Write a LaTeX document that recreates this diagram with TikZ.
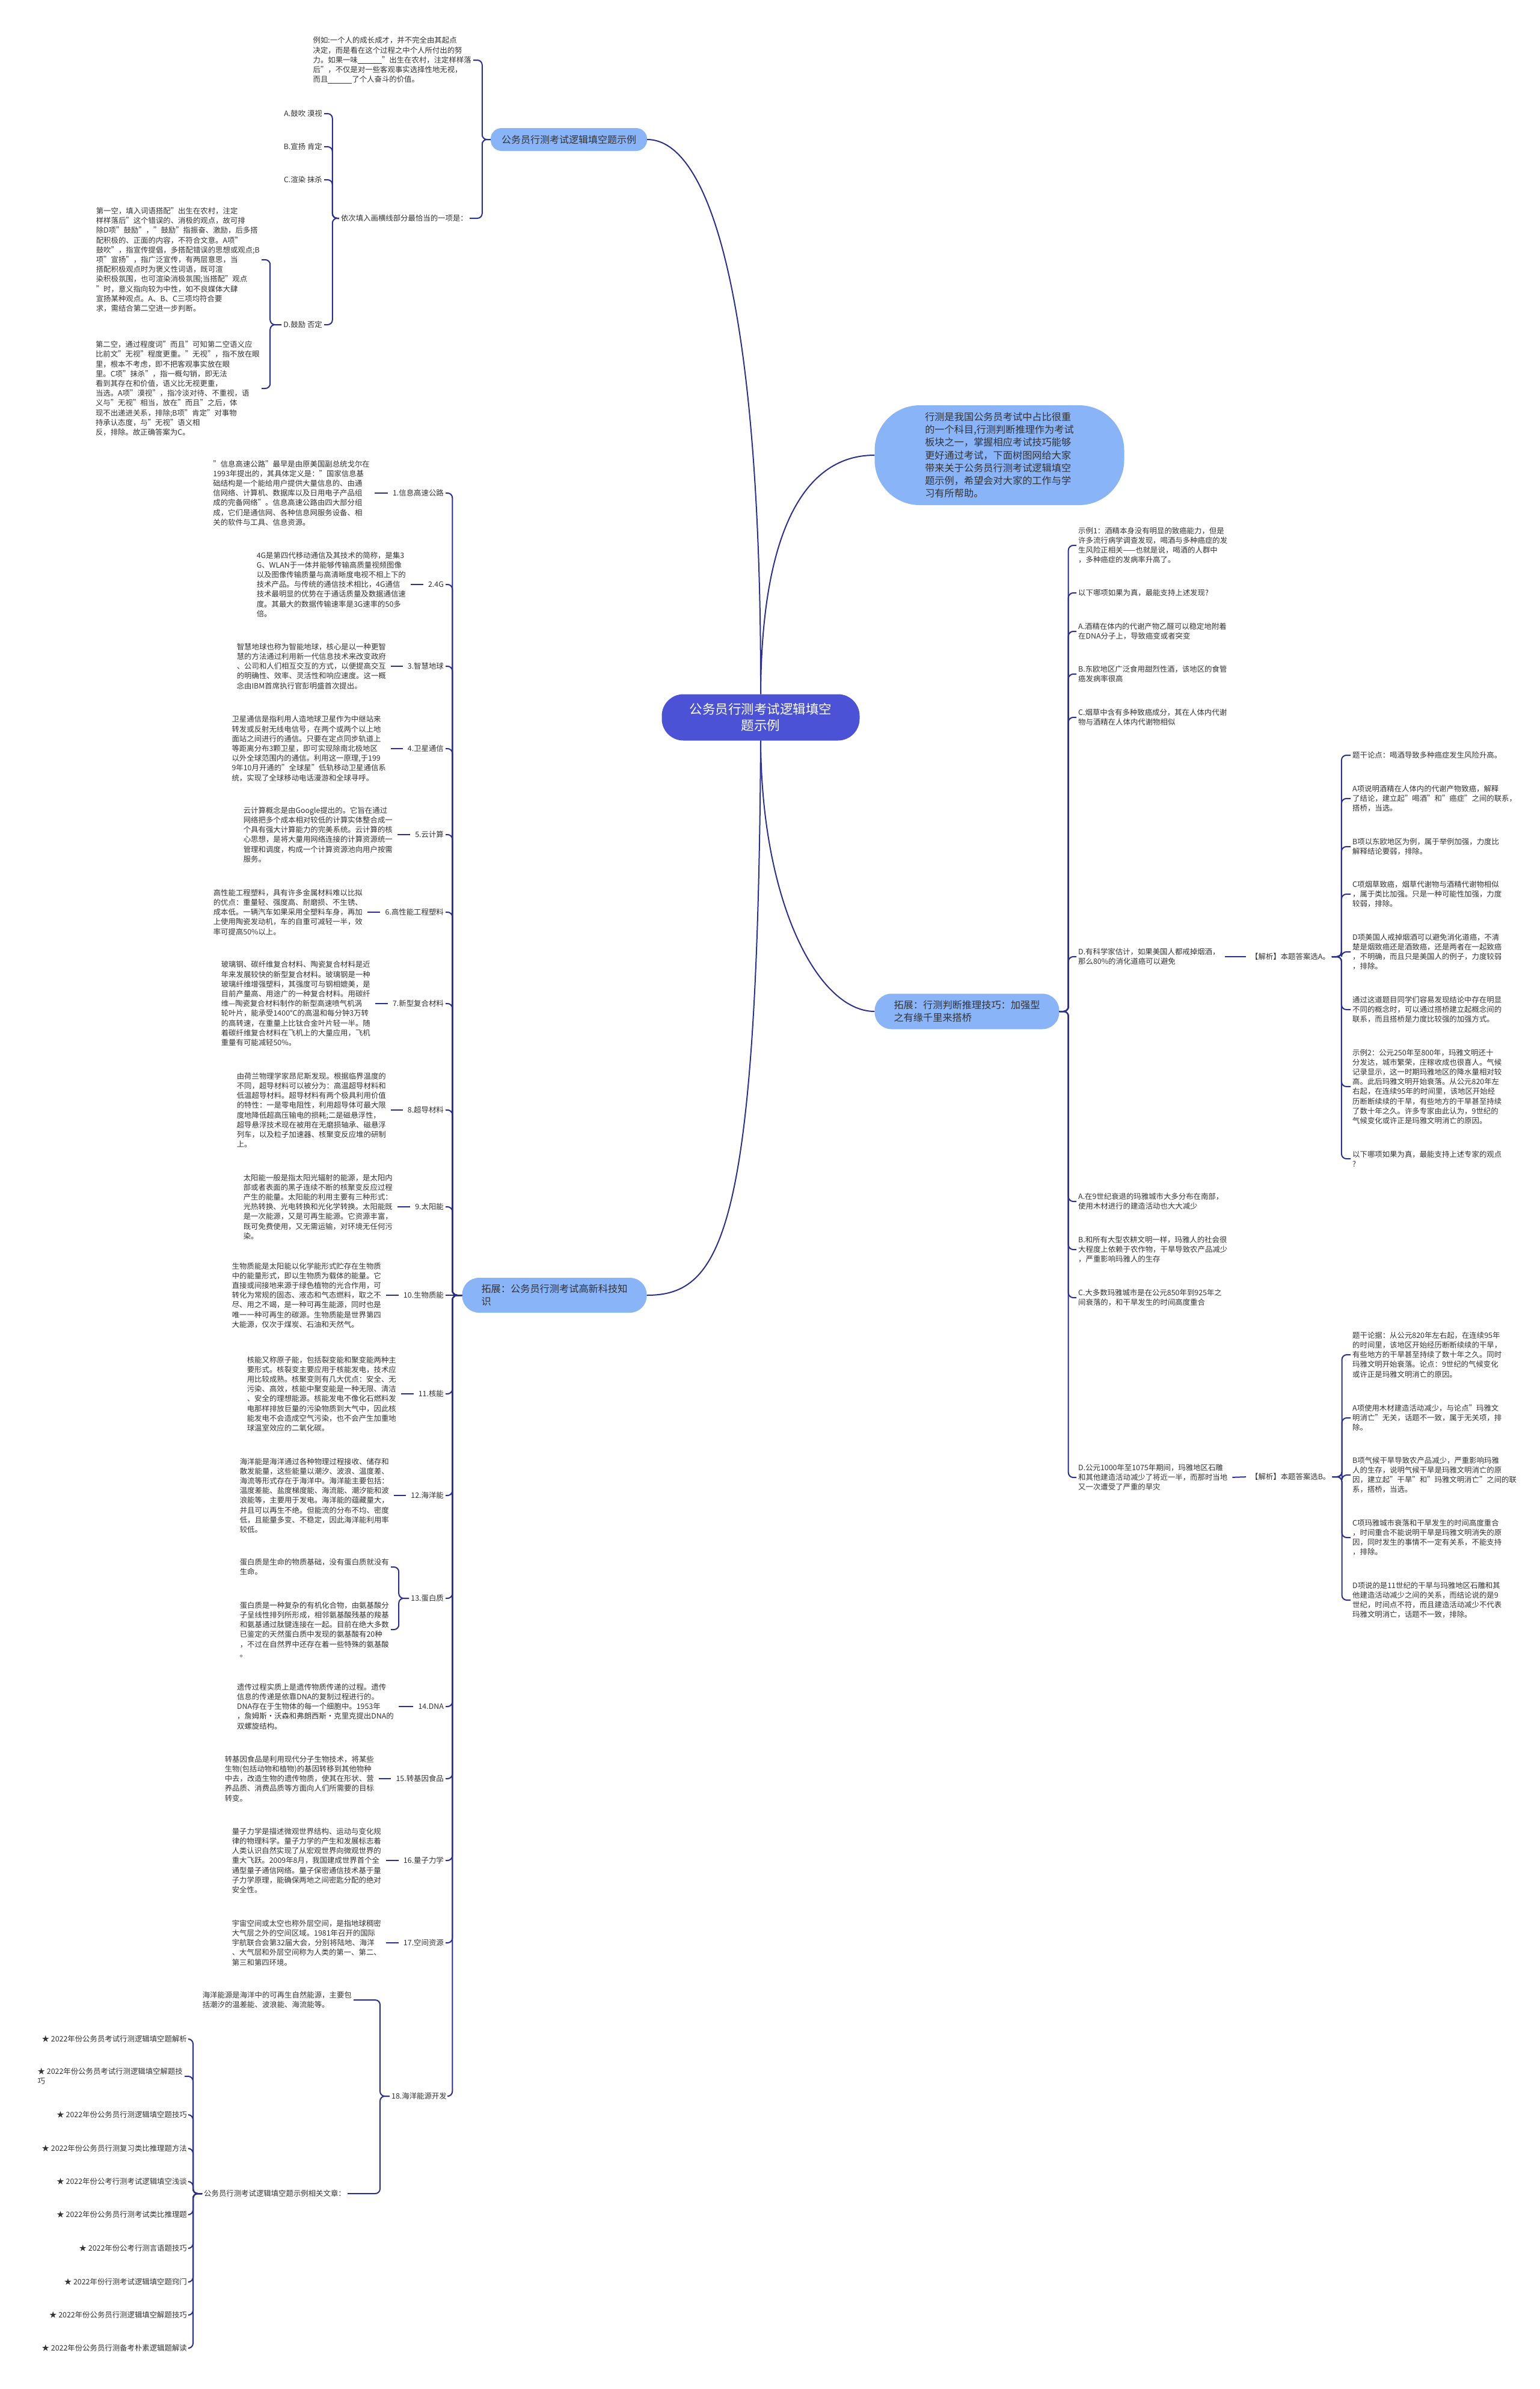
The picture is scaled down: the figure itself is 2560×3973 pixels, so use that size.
\documentclass[tikz,border=0pt]{standalone}
\usepackage{fontspec}
\setmainfont{Noto Sans CJK SC}
\usetikzlibrary{positioning}
\definecolor{mlink}{HTML}{2B3090}
\definecolor{mrootfill}{HTML}{4B52D6}
\definecolor{mtopicfill}{HTML}{8AB4F8}
\definecolor{mtext}{HTML}{333333}
\tikzset{mlinkline/.style={draw=mlink, line width=2pt, rounded corners=8pt}}
\tikzset{mtick/.style={draw=mlink, line width=2pt, shorten <=5pt, shorten >=5pt}}
\tikzset{mleaf/.style={font=\fontsize{12.4}{16.2}\selectfont, text=mtext, align=left, inner sep=3pt}}
\tikzset{mroot/.style={fill=mrootfill, text=white, rounded corners=36pt, minimum width=329pt, minimum height=77pt, font=\fontsize{21.5}{27}\selectfont, align=center}}
\tikzset{mtopic/.style={fill=mtopicfill, text=mtext, align=left, font=\fontsize{16.2}{21.2}\selectfont}}

\begin{document}
\begin{tikzpicture}[x=1pt,y=-1pt]
  \fill[white] (0,0) rectangle (2560,3973);
  \useasboundingbox (0,0) rectangle (2560,3973);

  \node[mroot] (root) at (1265,1193) {公务员行测考试逻辑填空\\题示例};
  \node[mtopic, minimum width=415pt, minimum height=166pt, rounded corners=75pt] (intro) at (1662,757) {行测是我国公务员考试中占比很重\\的一个科目,行测判断推理作为考试\\板块之一，掌握相应考试技巧能够\\更好通过考试，下面树图网给大家\\带来关于公务员行测考试逻辑填空\\题示例，希望会对大家的工作与学\\习有所帮助。};
  \node[mtopic, minimum width=260pt, minimum height=38pt, rounded corners=18pt, font=\fontsize{16}{20}\selectfont] (exam) at (946,232) {公务员行测考试逻辑填空题示例};
  \node[mtopic, minimum width=307pt, minimum height=59pt, rounded corners=28pt] (bridge) at (1608,1682) {拓展：行测判断推理技巧：加强型\\之有缘千里来搭桥};
  \node[mtopic, minimum width=307pt, minimum height=58pt, rounded corners=28pt] (scitech) at (922,2154) {拓展：公务员行测考试高新科技知\\识};

  \draw[mlinkline] (root.north) .. controls (1266,500) and (1180,232) .. (exam.east);
  \draw[mlinkline] (root.north) .. controls (1266,900) and (1330,757) .. (intro.west);
  \draw[mlinkline] (root.south) .. controls (1266,1500) and (1360,1682) .. (bridge.west);
  \draw[mlinkline] (root.south) .. controls (1260,2050) and (1200,2154) .. (scitech.east);

  % example question
  \node[mleaf, anchor=east] (stem) at (787,100) {例如:一个人的成长成才，并不完全由其起点\\决定，而是看在这个过程之中个人所付出的努\\力。如果一味\underline{\hspace{40pt}}"出生在农村，注定样样落\\后"，不仅是对一些客观事实选择性地无视，\\而且\underline{\hspace{40pt}}了个人奋斗的价值。};
  \node[mleaf, anchor=east] (ask) at (781,363) {依次填入画横线部分最恰当的一项是：};
  \node[mleaf, anchor=east] (optA) at (539,189) {A.鼓吹 漠视};
  \node[mleaf, anchor=east] (optB) at (539,244) {B.宣扬 肯定};
  \node[mleaf, anchor=east] (optC) at (539,299) {C.渲染 抹杀};
  \node[mleaf, anchor=east] (optD) at (539,540) {D.鼓励 否定};
  \node[mleaf, anchor=east] (blank1) at (435,432) {第一空，填入词语搭配"出生在农村，注定\\样样落后"这个错误的、消极的观点，故可排\\除D项"鼓励"，"鼓励"指振奋、激励，后多搭\\配积极的、正面的内容，不符合文意。A项"\\鼓吹"，指宣传提倡，多搭配错误的思想或观点;B\\项"宣扬"，指广泛宣传，有两层意思，当\\搭配积极观点时为褒义性词语，既可渲\\染积极氛围，也可渲染消极氛围;当搭配"观点\\"时，意义指向较为中性，如不良媒体大肆\\宣扬某种观点。A、B、C三项均符合要\\求，需结合第二空进一步判断。};
  \node[mleaf, anchor=east] (blank2) at (435,646) {第二空，通过程度词"而且"可知第二空语义应\\比前文"无视"程度更重。"无视"，指不放在眼\\里，根本不考虑，即不把客观事实放在眼\\里。C项"抹杀"，指一概勾销，即无法\\看到其存在和价值，语义比无视更重，\\当选。A项"漠视"，指冷淡对待、不重视，语\\义与"无视"相当，放在"而且"之后，体\\现不出递进关系，排除;B项"肯定"对事物\\持承认态度，与"无视"语义相\\反，排除。故正确答案为C。};

  \draw[mlinkline] (exam.west) -- ++(-14,0) |- (stem.east);
  \draw[mlinkline] (exam.west) -- ++(-14,0) |- (ask.east);
  \draw[mlinkline] (ask.west) -- ++(-11,0) |- (optA.east);
  \draw[mlinkline] (ask.west) -- ++(-11,0) |- (optB.east);
  \draw[mlinkline] (ask.west) -- ++(-11,0) |- (optC.east);
  \draw[mlinkline] (ask.west) -- ++(-11,0) |- (optD.east);
  \draw[mlinkline] (optD.west) -- ++(-19,0) |- (blank1.east);
  \draw[mlinkline] (optD.west) -- ++(-19,0) |- (blank2.east);

  % bridging questions
  \node[mleaf, anchor=west] (alcStem) at (1790,907) {示例1：酒精本身没有明显的致癌能力，但是\\许多流行病学调查发现，喝酒与多种癌症的发\\生风险正相关——也就是说，喝酒的人群中\\，多种癌症的发病率升高了。};
  \node[mleaf, anchor=west] (alcAsk) at (1790,986) {以下哪项如果为真，最能支持上述发现?};
  \node[mleaf, anchor=west] (alcA) at (1790,1050) {A.酒精在体内的代谢产物乙醛可以稳定地附着\\在DNA分子上，导致癌变或者突变};
  \node[mleaf, anchor=west] (alcB) at (1790,1121) {B.东欧地区广泛食用甜烈性酒，该地区的食管\\癌发病率很高};
  \node[mleaf, anchor=west] (alcC) at (1790,1193) {C.烟草中含有多种致癌成分，其在人体内代谢\\物与酒精在人体内代谢物相似};
  \node[mleaf, anchor=west] (alcD) at (1790,1591) {D.有科学家估计，如果美国人都戒掉烟酒，\\那么80\%的消化道癌可以避免};
  \node[mleaf, anchor=west] (mayaA) at (1790,1998) {A.在9世纪衰退的玛雅城市大多分布在南部，\\使用木材进行的建造活动也大大减少};
  \node[mleaf, anchor=west] (mayaB) at (1790,2078) {B.和所有大型农耕文明一样，玛雅人的社会很\\大程度上依赖于农作物，干旱导致农产品减少\\，严重影响玛雅人的生存};
  \node[mleaf, anchor=west] (mayaC) at (1790,2158) {C.大多数玛雅城市是在公元850年到925年之\\间衰落的，和干旱发生的时间高度重合};
  \node[mleaf, anchor=west] (mayaD) at (1790,2457) {D.公元1000年至1075年期间，玛雅地区石雕\\和其他建造活动减少了将近一半，而那时当地\\又一次遭受了严重的旱灾};

  \draw[mlinkline] (bridge.east) -- ++(15,0) |- (alcStem.west);
  \draw[mlinkline] (bridge.east) -- ++(15,0) |- (alcAsk.west);
  \draw[mlinkline] (bridge.east) -- ++(15,0) |- (alcA.west);
  \draw[mlinkline] (bridge.east) -- ++(15,0) |- (alcB.west);
  \draw[mlinkline] (bridge.east) -- ++(15,0) |- (alcC.west);
  \draw[mlinkline] (bridge.east) -- ++(15,0) |- (alcD.west);
  \draw[mlinkline] (bridge.east) -- ++(15,0) |- (mayaA.west);
  \draw[mlinkline] (bridge.east) -- ++(15,0) |- (mayaB.west);
  \draw[mlinkline] (bridge.east) -- ++(15,0) |- (mayaC.west);
  \draw[mlinkline] (bridge.east) -- ++(15,0) |- (mayaD.west);

  \node[mleaf, anchor=west] (ansA) at (2077,1591) {【解析】本题答案选A。};
  \draw[mtick] (alcD.east) -- (ansA.west);
  \node[mleaf, anchor=west] (ansA1) at (2246,1256) {题干论点：喝酒导致多种癌症发生风险升高。};
  \node[mleaf, anchor=west] (ansA2) at (2246,1328) {A项说明酒精在人体内的代谢产物致癌，解释\\了结论，建立起"喝酒"和"癌症"之间的联系，\\搭桥，当选。};
  \node[mleaf, anchor=west] (ansA3) at (2246,1408) {B项以东欧地区为例，属于举例加强，力度比\\解释结论要弱，排除。};
  \node[mleaf, anchor=west] (ansA4) at (2246,1487) {C项烟草致癌，烟草代谢物与酒精代谢物相似\\，属于类比加强。只是一种可能性加强，力度\\较弱，排除。};
  \node[mleaf, anchor=west] (ansA5) at (2246,1583) {D项美国人戒掉烟酒可以避免消化道癌，不清\\楚是烟致癌还是酒致癌，还是两者在一起致癌\\，不明确，而且只是美国人的例子，力度较弱\\，排除。};
  \node[mleaf, anchor=west] (ansA6) at (2246,1679) {通过这道题目同学们容易发现结论中存在明显\\不同的概念时，可以通过搭桥建立起概念间的\\联系，而且搭桥是力度比较强的加强方式。};
  \node[mleaf, anchor=west] (ansA7) at (2246,1807) {示例2：公元250年至800年，玛雅文明还十\\分发达，城市繁荣，庄稼收成也很喜人。气候\\记录显示，这一时期玛雅地区的降水量相对较\\高。此后玛雅文明开始衰落。从公元820年左\\右起，在连续95年的时间里，该地区开始经\\历断断续续的干旱，有些地方的干旱甚至持续\\了数十年之久。许多专家由此认为，9世纪的\\气候变化或许正是玛雅文明消亡的原因。};
  \node[mleaf, anchor=west] (ansA8) at (2246,1927) {以下哪项如果为真，最能支持上述专家的观点\\?};
  \draw[mlinkline] (ansA.east) -- ++(16,0) |- (ansA1.west);
  \draw[mlinkline] (ansA.east) -- ++(16,0) |- (ansA2.west);
  \draw[mlinkline] (ansA.east) -- ++(16,0) |- (ansA3.west);
  \draw[mlinkline] (ansA.east) -- ++(16,0) |- (ansA4.west);
  \draw[mlinkline] (ansA.east) -- ++(16,0) |- (ansA5.west);
  \draw[mlinkline] (ansA.east) -- ++(16,0) |- (ansA6.west);
  \draw[mlinkline] (ansA.east) -- ++(16,0) |- (ansA7.west);
  \draw[mlinkline] (ansA.east) -- ++(16,0) |- (ansA8.west);

  \node[mleaf, anchor=west] (ansB) at (2077,2456) {【解析】本题答案选B。};
  \draw[mtick] (mayaD.east) -- (ansB.west);
  \node[mleaf, anchor=west] (ansB1) at (2246,2253) {题干论据：从公元820年左右起，在连续95年\\的时间里，该地区开始经历断断续续的干旱，\\有些地方的干旱甚至持续了数十年之久。同时\\玛雅文明开始衰落。论点：9世纪的气候变化\\或许正是玛雅文明消亡的原因。};
  \node[mleaf, anchor=west] (ansB2) at (2246,2358) {A项使用木材建造活动减少，与论点"玛雅文\\明消亡"无关，话题不一致，属于无关项，排\\除。};
  \node[mleaf, anchor=west] (ansB3) at (2246,2453) {B项气候干旱导致农产品减少，严重影响玛雅\\人的生存，说明气候干旱是玛雅文明消亡的原\\因，建立起"干旱"和"玛雅文明消亡"之间的联\\系，搭桥，当选。};
  \node[mleaf, anchor=west] (ansB4) at (2246,2557) {C项玛雅城市衰落和干旱发生的时间高度重合\\，时间重合不能说明干旱是玛雅文明消失的原\\因，同时发生的事情不一定有关系，不能支持\\，排除。};
  \node[mleaf, anchor=west] (ansB5) at (2246,2661) {D项说的是11世纪的干旱与玛雅地区石雕和其\\他建造活动减少之间的关系，而结论说的是9\\世纪，时间点不符，而且建造活动减少不代表\\玛雅文明消亡，话题不一致，排除。};
  \draw[mlinkline] (ansB.east) -- ++(16,0) |- (ansB1.west);
  \draw[mlinkline] (ansB.east) -- ++(16,0) |- (ansB2.west);
  \draw[mlinkline] (ansB.east) -- ++(16,0) |- (ansB3.west);
  \draw[mlinkline] (ansB.east) -- ++(16,0) |- (ansB4.west);
  \draw[mlinkline] (ansB.east) -- ++(16,0) |- (ansB5.west);

  % science and technology
  \node[mleaf, anchor=east] (sci1) at (741,820) {1.信息高速公路};
  \node[mleaf, anchor=east] (sci2) at (741,972) {2.4G};
  \node[mleaf, anchor=east] (sci3) at (741,1108) {3.智慧地球};
  \node[mleaf, anchor=east] (sci4) at (741,1245) {4.卫星通信};
  \node[mleaf, anchor=east] (sci5) at (741,1388) {5.云计算};
  \node[mleaf, anchor=east] (sci6) at (741,1517) {6.高性能工程塑料};
  \node[mleaf, anchor=east] (sci7) at (741,1669) {7.新型复合材料};
  \node[mleaf, anchor=east] (sci8) at (741,1846) {8.超导材料};
  \node[mleaf, anchor=east] (sci9) at (741,2007) {9.太阳能};
  \node[mleaf, anchor=east] (sci10) at (741,2154) {10.生物质能};
  \node[mleaf, anchor=east] (sci11) at (741,2318) {11.核能};
  \node[mleaf, anchor=east] (sci12) at (741,2487) {12.海洋能};
  \node[mleaf, anchor=east] (sci13) at (741,2658) {13.蛋白质};
  \node[mleaf, anchor=east] (sci14) at (741,2838) {14.DNA};
  \node[mleaf, anchor=east] (sci15) at (741,2958) {15.转基因食品};
  \node[mleaf, anchor=east] (sci16) at (741,3094) {16.量子力学};
  \node[mleaf, anchor=east] (sci17) at (741,3231) {17.空间资源};
  \node[mleaf, anchor=east] (sci18) at (746,3486) {18.海洋能源开发};

  \draw[mlinkline] (scitech.west) -- ++(-16,0) |- (sci1.east);
  \draw[mlinkline] (scitech.west) -- ++(-16,0) |- (sci2.east);
  \draw[mlinkline] (scitech.west) -- ++(-16,0) |- (sci3.east);
  \draw[mlinkline] (scitech.west) -- ++(-16,0) |- (sci4.east);
  \draw[mlinkline] (scitech.west) -- ++(-16,0) |- (sci5.east);
  \draw[mlinkline] (scitech.west) -- ++(-16,0) |- (sci6.east);
  \draw[mlinkline] (scitech.west) -- ++(-16,0) |- (sci7.east);
  \draw[mlinkline] (scitech.west) -- ++(-16,0) |- (sci8.east);
  \draw[mlinkline] (scitech.west) -- ++(-16,0) |- (sci9.east);
  \draw[mlinkline] (scitech.west) -- (sci10.east);
  \draw[mlinkline] (scitech.west) -- ++(-16,0) |- (sci11.east);
  \draw[mlinkline] (scitech.west) -- ++(-16,0) |- (sci12.east);
  \draw[mlinkline] (scitech.west) -- ++(-16,0) |- (sci13.east);
  \draw[mlinkline] (scitech.west) -- ++(-16,0) |- (sci14.east);
  \draw[mlinkline] (scitech.west) -- ++(-16,0) |- (sci15.east);
  \draw[mlinkline] (scitech.west) -- ++(-16,0) |- (sci16.east);
  \draw[mlinkline] (scitech.west) -- ++(-16,0) |- (sci17.east);
  \draw[mlinkline] (scitech.west) -- ++(-16,0) |- (sci18.east);

  \node[mleaf, anchor=east] (sci1txt) at (618,820) {"信息高速公路"最早是由原美国副总统戈尔在\\1993年提出的，其具体定义是："国家信息基\\础结构是一个能给用户提供大量信息的、由通\\信网络、计算机、数据库以及日用电子产品组\\成的完备网络"。信息高速公路由四大部分组\\成，它们是通信网、各种信息网服务设备、相\\关的软件与工具、信息资源。};
  \node[mleaf, anchor=east] (sci2txt) at (678,972) {4G是第四代移动通信及其技术的简称，是集3\\G、WLAN于一体并能够传输高质量视频图像\\以及图像传输质量与高清晰度电视不相上下的\\技术产品。与传统的通信技术相比，4G通信\\技术最明显的优势在于通话质量及数据通信速\\度。其最大的数据传输速率是3G速率的50多\\倍。};
  \node[mleaf, anchor=east] (sci3txt) at (645,1108) {智慧地球也称为智能地球，核心是以一种更智\\慧的方法通过利用新一代信息技术来改变政府\\、公司和人们相互交互的方式，以便提高交互\\的明确性、效率、灵活性和响应速度。这一概\\念由IBM首席执行官彭明盛首次提出。};
  \node[mleaf, anchor=east] (sci4txt) at (645,1245) {卫星通信是指利用人造地球卫星作为中继站来\\转发或反射无线电信号，在两个或两个以上地\\面站之间进行的通信。只要在定点同步轨道上\\等距离分布3颗卫星，即可实现除南北极地区\\以外全球范围内的通信。利用这一原理,于199\\9年10月开通的"全球星"低轨移动卫星通信系\\统，实现了全球移动电话漫游和全球寻呼。};
  \node[mleaf, anchor=east] (sci5txt) at (656,1388) {云计算概念是由Google提出的。它旨在通过\\网络把多个成本相对较低的计算实体整合成一\\个具有强大计算能力的完美系统。云计算的核\\心思想，是将大量用网络连接的计算资源统一\\管理和调度，构成一个计算资源池向用户按需\\服务。};
  \node[mleaf, anchor=east] (sci6txt) at (606,1517) {高性能工程塑料，具有许多金属材料难以比拟\\的优点：重量轻、强度高、耐磨损、不生锈、\\成本低。一辆汽车如果采用全塑料车身，再加\\上使用陶瓷发动机，车的自重可减轻一半，效\\率可提高50\%以上。};
  \node[mleaf, anchor=east] (sci7txt) at (619,1669) {玻璃钢、碳纤维复合材料、陶瓷复合材料是近\\年来发展较快的新型复合材料。玻璃钢是一种\\玻璃纤维增强塑料，其强度可与钢相媲美，是\\目前产量高、用途广的一种复合材料。用碳纤\\维—陶瓷复合材料制作的新型高速喷气机涡\\轮叶片，能承受1400°C的高温和每分钟3万转\\的高转速，在重量上比钛合金叶片轻一半。随\\着碳纤维复合材料在飞机上的大量应用，飞机\\重量有可能减轻50\%。};
  \node[mleaf, anchor=east] (sci8txt) at (645,1846) {由荷兰物理学家昂尼斯发现。根据临界温度的\\不同，超导材料可以被分为：高温超导材料和\\低温超导材料。超导材料有两个极具利用价值\\的特性：一是零电阻性，利用超导体可最大限\\度地降低超高压输电的损耗;二是磁悬浮性，\\超导悬浮技术现在被用在无磨损轴承、磁悬浮\\列车，以及粒子加速器、核聚变反应堆的研制\\上。};
  \node[mleaf, anchor=east] (sci9txt) at (656,2007) {太阳能一般是指太阳光辐射的能源，是太阳内\\部或者表面的黑子连续不断的核聚变反应过程\\产生的能量。太阳能的利用主要有三种形式：\\光热转换、光电转换和光化学转换。太阳能既\\是一次能源，又是可再生能源。它资源丰富，\\既可免费使用，又无需运输，对环境无任何污\\染。};
  \node[mleaf, anchor=east] (sci10txt) at (637,2154) {生物质能是太阳能以化学能形式贮存在生物质\\中的能量形式，即以生物质为载体的能量。它\\直接或间接地来源于绿色植物的光合作用，可\\转化为常规的固态、液态和气态燃料，取之不\\尽、用之不竭，是一种可再生能源，同时也是\\唯一一种可再生的碳源。生物质能是世界第四\\大能源，仅次于煤炭、石油和天然气。};
  \node[mleaf, anchor=east] (sci11txt) at (662,2318) {核能又称原子能，包括裂变能和聚变能两种主\\要形式。核裂变主要应用于核能发电，技术应\\用比较成熟。核聚变则有几大优点：安全、无\\污染、高效，核能中聚变能是一种无限、清洁\\、安全的理想能源。核能发电不像化石燃料发\\电那样排放巨量的污染物质到大气中，因此核\\能发电不会造成空气污染，也不会产生加重地\\球温室效应的二氧化碳。};
  \node[mleaf, anchor=east] (sci12txt) at (650,2487) {海洋能是海洋通过各种物理过程接收、储存和\\散发能量，这些能量以潮汐、波浪、温度差、\\海流等形式存在于海洋中。海洋能主要包括：\\温度差能、盐度梯度能、海流能、潮汐能和波\\浪能等，主要用于发电。海洋能的蕴藏量大，\\并且可以再生不绝。但能流的分布不均、密度\\低，且能量多变、不稳定，因此海洋能利用率\\较低。};
  \node[mleaf, anchor=east] (sci13a) at (650,2606) {蛋白质是生命的物质基础，没有蛋白质就没有\\生命。};
  \node[mleaf, anchor=east] (sci13b) at (650,2710) {蛋白质是一种复杂的有机化合物，由氨基酸分\\子呈线性排列所形成，相邻氨基酸残基的羧基\\和氨基通过肽键连接在一起。目前在绝大多数\\已鉴定的天然蛋白质中发现的氨基酸有20种\\，不过在自然界中还存在着一些特殊的氨基酸\\。};
  \node[mleaf, anchor=east] (sci14txt) at (658,2838) {遗传过程实质上是遗传物质传递的过程。遗传\\信息的传递是依靠DNA的复制过程进行的。\\DNA存在于生物体的每一个细胞中。1953年\\，詹姆斯·沃森和弗朗西斯·克里克提出DNA的\\双螺旋结构。};
  \node[mleaf, anchor=east] (sci15txt) at (625,2958) {转基因食品是利用现代分子生物技术，将某些\\生物(包括动物和植物)的基因转移到其他物种\\中去，改造生物的遗传物质，使其在形状、营\\养品质、消费品质等方面向人们所需要的目标\\转变。};
  \node[mleaf, anchor=east] (sci16txt) at (637,3094) {量子力学是描述微观世界结构、运动与变化规\\律的物理科学。量子力学的产生和发展标志着\\人类认识自然实现了从宏观世界向微观世界的\\重大飞跃。2009年8月，我国建成世界首个全\\通型量子通信网络。量子保密通信技术基于量\\子力学原理，能确保两地之间密匙分配的绝对\\安全性。};
  \node[mleaf, anchor=east] (sci17txt) at (637,3231) {宇宙空间或太空也称外层空间，是指地球稠密\\大气层之外的空间区域。1981年召开的国际\\宇航联合会第32届大会，分别将陆地、海洋\\、大气层和外层空间称为人类的第一、第二、\\第三和第四环境。};
  \node[mleaf, anchor=east] (sci18a) at (588,3326) {海洋能源是海洋中的可再生自然能源，主要包\\括潮汐的温差能、波浪能、海流能等。};
  \node[mleaf, anchor=east] (sci18b) at (578,3648) {公务员行测考试逻辑填空题示例相关文章：};

  \draw[mtick] (sci1.west) -- (sci1txt.east);
  \draw[mtick] (sci2.west) -- (sci2txt.east);
  \draw[mtick] (sci3.west) -- (sci3txt.east);
  \draw[mtick] (sci4.west) -- (sci4txt.east);
  \draw[mtick] (sci5.west) -- (sci5txt.east);
  \draw[mtick] (sci6.west) -- (sci6txt.east);
  \draw[mtick] (sci7.west) -- (sci7txt.east);
  \draw[mtick] (sci8.west) -- (sci8txt.east);
  \draw[mtick] (sci9.west) -- (sci9txt.east);
  \draw[mtick] (sci10.west) -- (sci10txt.east);
  \draw[mtick] (sci11.west) -- (sci11txt.east);
  \draw[mtick] (sci12.west) -- (sci12txt.east);
  \draw[mlinkline] (sci13.west) -- ++(-17,0) |- (sci13a.east);
  \draw[mlinkline] (sci13.west) -- ++(-17,0) |- (sci13b.east);
  \draw[mtick] (sci14.west) -- (sci14txt.east);
  \draw[mtick] (sci15.west) -- (sci15txt.east);
  \draw[mtick] (sci16.west) -- (sci16txt.east);
  \draw[mtick] (sci17.west) -- (sci17txt.east);
  \draw[mlinkline] (sci18.west) -- ++(-16,0) |- (sci18a.east);
  \draw[mlinkline] (sci18.west) -- ++(-16,0) |- (sci18b.east);

  % related articles
  \node[mleaf, anchor=east] (art1) at (314,3391) {★ 2022年份公务员考试行测逻辑填空题解析};
  \node[mleaf, anchor=east] (art2) at (307,3453) {★ 2022年份公务员考试行测逻辑填空解题技\\巧};
  \node[mleaf, anchor=east] (art3) at (314,3517) {★ 2022年份公务员行测逻辑填空题技巧};
  \node[mleaf, anchor=east] (art4) at (314,3573) {★ 2022年份公务员行测复习类比推理题方法};
  \node[mleaf, anchor=east] (art5) at (314,3628) {★ 2022年份公考行测考试逻辑填空浅谈};
  \node[mleaf, anchor=east] (art6) at (314,3683) {★ 2022年份公务员行测考试类比推理题};
  \node[mleaf, anchor=east] (art7) at (314,3739) {★ 2022年份公考行测言语题技巧};
  \node[mleaf, anchor=east] (art8) at (314,3795) {★ 2022年份行测考试逻辑填空题窍门};
  \node[mleaf, anchor=east] (art9) at (314,3850) {★ 2022年份公务员行测逻辑填空解题技巧};
  \node[mleaf, anchor=east] (art10) at (314,3905) {★ 2022年份公务员行测备考朴素逻辑题解读};

  \draw[mlinkline] (sci18b.west) -- ++(-15,0) |- (art1.east);
  \draw[mlinkline] (sci18b.west) -- ++(-15,0) |- (art2.east);
  \draw[mlinkline] (sci18b.west) -- ++(-15,0) |- (art3.east);
  \draw[mlinkline] (sci18b.west) -- ++(-15,0) |- (art4.east);
  \draw[mlinkline] (sci18b.west) -- ++(-15,0) |- (art5.east);
  \draw[mlinkline] (sci18b.west) -- ++(-15,0) |- (art6.east);
  \draw[mlinkline] (sci18b.west) -- ++(-15,0) |- (art7.east);
  \draw[mlinkline] (sci18b.west) -- ++(-15,0) |- (art8.east);
  \draw[mlinkline] (sci18b.west) -- ++(-15,0) |- (art9.east);
  \draw[mlinkline] (sci18b.west) -- ++(-15,0) |- (art10.east);
\end{tikzpicture}
\end{document}
